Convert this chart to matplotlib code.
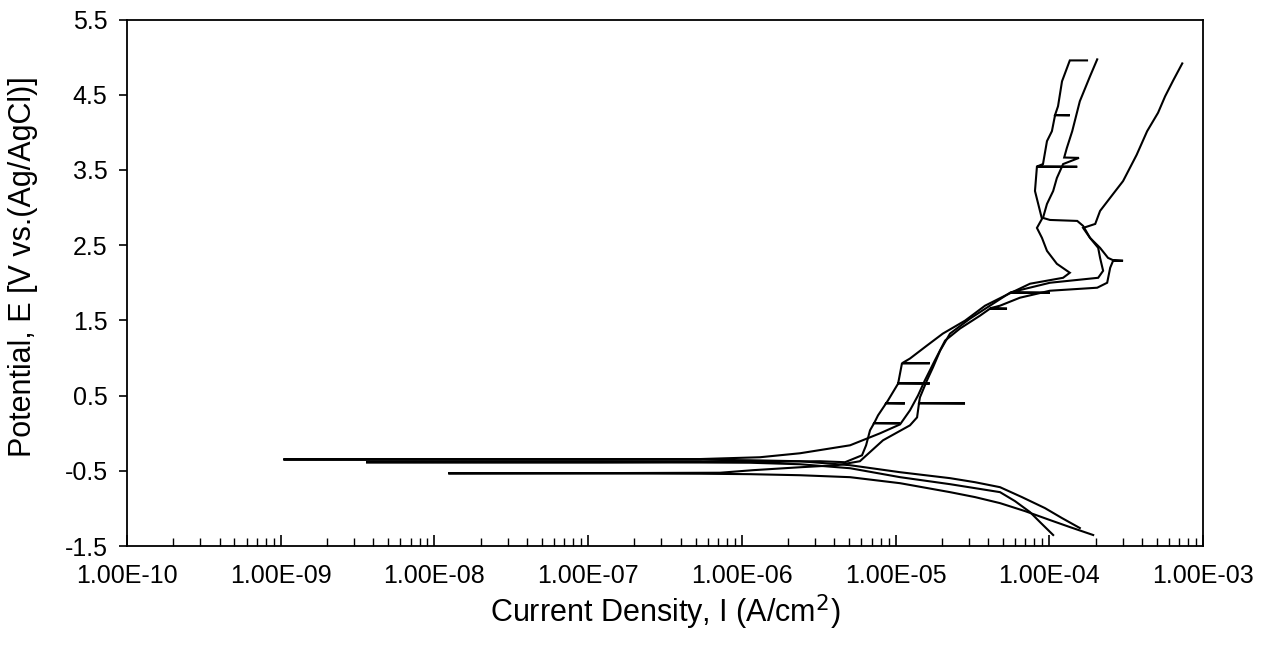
import matplotlib
matplotlib.use("Agg")
import matplotlib.pyplot as plt
from matplotlib.ticker import FixedLocator, FuncFormatter, NullFormatter

# Potentiodynamic polarization scans: current density (A/cm^2) and potential (V vs Ag/AgCl)
scan1_i = [1.58e-4, 1.21e-4, 9.37e-5, 6.64e-5, 4.78e-5, 3.29e-5, 2.26e-5, 1.07e-5, 5.06e-6, 2.39e-6,
           1.13e-6, 5.35e-7, 1.19e-7, 1.04e-9, 1.19e-7, 5.35e-7, 1.31e-6, 2.39e-6, 5.06e-6, 7.92e-6,
           1.07e-5, 1.24e-5, 1.40e-5, 1.55e-5, 1.80e-5, 2.10e-5, 2.62e-5, 3.54e-5, 4.11e-5, 5.31e-5,
           4.11e-5, 4.78e-5, 6.44e-5, 1.01e-4, 2.05e-4, 2.38e-4, 2.49e-4, 2.60e-4, 3.02e-4, 2.60e-4,
           2.41e-4, 2.14e-4, 1.84e-4, 1.66e-4, 1.99e-4, 2.14e-4, 2.60e-4, 3.02e-4, 3.70e-4, 4.33e-4,
           5.10e-4, 5.67e-4, 6.40e-4, 7.33e-4]
scan1_e = [-1.261, -1.129, -0.996, -0.850, -0.718, -0.652, -0.598, -0.519, -0.426, -0.373,
           -0.360, -0.353, -0.351, -0.349, -0.347, -0.344, -0.320, -0.267, -0.161, -0.002,
           0.117, 0.303, 0.502, 0.701, 0.966, 1.231, 1.390, 1.562, 1.655, 1.655,
           1.660, 1.695, 1.801, 1.894, 1.934, 2.000, 2.199, 2.292, 2.292, 2.300,
           2.331, 2.464, 2.597, 2.729, 2.782, 2.955, 3.180, 3.352, 3.700, 4.015,
           4.260, 4.479, 4.690, 4.916]

scan2_i = [1.06e-4, 8.70e-5, 7.49e-5, 5.98e-5, 4.78e-5, 3.29e-5, 2.26e-5, 1.07e-5, 5.06e-6, 2.39e-6,
           1.13e-6, 5.35e-7, 1.19e-7, 3.59e-9, 1.19e-7, 1.13e-6, 3.23e-6, 4.69e-6, 6.05e-6, 6.43e-6,
           6.82e-6, 7.24e-6, 1.07e-5, 7.26e-6, 7.69e-6, 8.67e-6, 1.15e-5, 8.70e-6, 8.93e-6, 1.04e-5,
           1.67e-5, 1.04e-5, 1.10e-5, 1.67e-5, 1.11e-5, 1.24e-5, 1.60e-5, 2.03e-5, 2.83e-5, 3.82e-5,
           5.15e-5, 7.49e-5, 1.23e-4, 1.36e-4, 1.12e-4, 9.66e-5, 8.96e-5, 8.31e-5, 8.96e-5, 8.07e-5,
           8.31e-5, 1.52e-4, 8.31e-5, 9.10e-5, 9.66e-5, 1.04e-4, 1.09e-4, 1.36e-4, 1.09e-4, 1.14e-4,
           1.21e-4, 1.36e-4, 1.76e-4]
scan2_e = [-1.354, -1.182, -1.049, -0.903, -0.784, -0.731, -0.678, -0.585, -0.466, -0.413,
           -0.393, -0.390, -0.389, -0.387, -0.385, -0.380, -0.373, -0.386, -0.294, -0.161,
           0.038, 0.131, 0.131, 0.135, 0.237, 0.396, 0.396, 0.400, 0.436, 0.661,
           0.661, 0.665, 0.926, 0.930, 0.934, 0.992, 1.165, 1.324, 1.496, 1.695,
           1.828, 1.987, 2.066, 2.133, 2.252, 2.424, 2.597, 2.729, 2.849, 3.220,
           3.542, 3.542, 3.545, 3.578, 3.883, 4.015, 4.227, 4.227, 4.230, 4.347,
           4.678, 4.956, 4.956]

scan3_i = [1.93e-4, 1.36e-4, 1.01e-4, 6.95e-5, 4.78e-5, 3.29e-5, 2.26e-5, 1.07e-5, 5.06e-6, 2.39e-6,
           1.13e-6, 5.35e-7, 1.19e-7, 1.23e-8, 1.19e-7, 7.21e-7, 1.18e-6, 2.39e-6, 4.15e-6, 5.86e-6,
           8.28e-6, 1.24e-5, 1.38e-5, 1.42e-5, 2.83e-5, 1.42e-5, 1.44e-5, 1.60e-5, 1.75e-5, 1.95e-5,
           2.26e-5, 3.05e-5, 4.11e-5, 5.55e-5, 1.01e-4, 5.60e-5, 1.01e-4, 2.08e-4, 2.24e-4, 2.14e-4,
           2.08e-4, 1.84e-4, 1.66e-4, 1.52e-4, 1.01e-4, 9.10e-5, 9.66e-5, 1.06e-4, 1.12e-4, 1.23e-4,
           1.56e-4, 1.25e-4, 1.30e-4, 1.41e-4, 1.58e-4, 1.84e-4, 2.05e-4]
scan3_e = [-1.354, -1.248, -1.155, -1.036, -0.930, -0.850, -0.784, -0.665, -0.585, -0.559,
           -0.545, -0.539, -0.535, -0.534, -0.531, -0.526, -0.492, -0.453, -0.426, -0.373,
           -0.095, 0.104, 0.210, 0.396, 0.396, 0.400, 0.475, 0.701, 0.873, 1.098,
           1.324, 1.523, 1.695, 1.867, 1.867, 1.872, 2.000, 2.066, 2.159, 2.331,
           2.464, 2.597, 2.756, 2.822, 2.835, 2.862, 3.048, 3.220, 3.392, 3.578,
           3.660, 3.665, 3.790, 4.015, 4.413, 4.744, 4.970]

decades = [1e-10, 1e-9, 1e-8, 1e-7, 1e-6, 1e-5, 1e-4, 1e-3]
y_ticks = [-1.5, -0.5, 0.5, 1.5, 2.5, 3.5, 4.5, 5.5]

plt.rcParams['font.family'] = ['Liberation Sans', 'DejaVu Sans']

fig = plt.figure(figsize=(12.75, 6.51), dpi=100)
ax = fig.add_axes([127 / 1275, 105 / 651, 1076 / 1275, 526.5 / 651])

for cur, pot in [(scan1_i, scan1_e), (scan2_i, scan2_e), (scan3_i, scan3_e)]:
    ax.plot(cur, pot, color='black', lw=1.5, solid_joinstyle='miter')

ax.set_xscale('log')
ax.set_xlim(decades[0], decades[-1])
ax.set_ylim(y_ticks[0], y_ticks[-1])

minor_ticks = [d * m for d in decades[:-1] for m in range(2, 10)]
ax.xaxis.set_major_locator(FixedLocator(decades))
ax.xaxis.set_minor_locator(FixedLocator(minor_ticks))
ax.xaxis.set_major_formatter(FuncFormatter(lambda v, p: f"{v:.2E}"))
ax.xaxis.set_minor_formatter(NullFormatter())
ax.yaxis.set_major_locator(FixedLocator(y_ticks))
ax.yaxis.set_major_formatter(FuncFormatter(lambda v, p: f"{v:g}"))

ax.tick_params(axis='x', which='major', direction='in', length=8, width=1.2, labelsize=18, pad=13)
ax.tick_params(axis='x', which='minor', direction='in', length=6, width=1.0)
ax.tick_params(axis='y', which='major', direction='out', length=6, width=1.2, labelsize=18, pad=8)
for s in ax.spines.values():
    s.set_linewidth(1.3)

ax.set_xlabel("Current Density, I (A/cm$^2$)", fontsize=22)
ax.xaxis.set_label_coords(0.5, -0.088)
ax.set_ylabel("Potential, E [V vs.(Ag/AgCl)]", fontsize=22)
ax.yaxis.set_label_coords(-0.0827, 0.53)

fig.savefig("out.png", dpi=100)
